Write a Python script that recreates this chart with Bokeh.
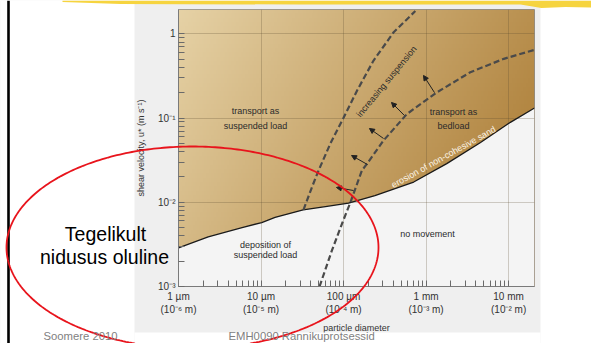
import numpy as np
from math import pi
from bokeh.plotting import figure
from bokeh.models import (FixedTicker, Label, Arrow, NormalHead, ColumnDataSource,
                          GridBox, Range1d)
from bokeh.core.properties import value
from bokeh.embed import file_html
from bokeh.resources import INLINE

# ---------------- data ----------------
# threshold of motion: erosion of non-cohesive sediment (solid curve)
thr_d = [1.0e-6, 2.29e-6, 5.89e-6, 1.02e-5, 1.48e-5, 3.24e-5, 6.03e-5,
         1.15e-4, 2.40e-4, 7.08e-4, 1.78e-3, 4.57e-3, 1.05e-2, 2.06e-2]
thr_u = [2.88e-3, 3.89e-3, 5.01e-3, 5.75e-3, 6.61e-3, 8.13e-3, 8.91e-3,
         9.77e-3, 1.20e-2, 1.74e-2, 2.88e-2, 5.13e-2, 8.91e-2, 0.132]
# onset of suspension (left dashed curve)
susp_d = [3.27e-5, 4.14e-5, 4.98e-5, 6.90e-5, 1.0e-4, 1.46e-4, 2.31e-4, 4.05e-4, 7.41e-4]
susp_u = [8.15e-3, 1.51e-2, 2.39e-2, 4.95e-2, 0.101, 0.213, 0.483, 1.047, 1.87]
# bedload / suspension boundary (right dashed curve)
bed_d = [5.12e-5, 7.23e-5, 9.57e-5, 1.205e-4, 1.67e-4, 1.92e-4, 3.05e-4,
         5.87e-4, 1.36e-3, 3.44e-3, 8.75e-3, 2.06e-2]
bed_u = [1.0e-3, 2.68e-3, 5.56e-3, 9.86e-3, 2.39e-2, 2.86e-2, 5.42e-2,
         0.112, 0.203, 0.351, 0.506, 0.647]
# "increasing suspension" arrows (tail -> head)
arrow_d0 = [1.265e-3, 5.47e-4, 3.05e-4, 1.95e-4, 1.32e-4]
arrow_u0 = [0.201, 0.1074, 0.0573, 0.0281, 0.0138]
arrow_d1 = [9.31e-4, 3.81e-4, 2.06e-4, 1.25e-4, 8.2e-5]
arrow_u1 = [0.321, 0.1534, 0.0753, 0.0360, 0.0150]

# region labels: (particle diameter, shear velocity, text)
region_d = [8.57e-6, 8.57e-6, 2.15e-3, 2.15e-3, 1.13e-5, 1.13e-5, 1.04e-3]
region_u = [0.120, 0.0806, 0.118, 0.0806, 3.15e-3, 2.37e-3, 4.15e-3]
region_t = ["transport as", "suspended load", "transport as", "bedload",
            "deposition of", "suspended load", "no movement"]

# axis ticks
x_major = [1e-6, 1e-5, 1e-4, 1e-3, 1e-2]
x_labels = ["1 \u00b5m\n(10\u207b\u2076 m)", "10 \u00b5m\n(10\u207b\u2075 m)",
            "100 \u00b5m\n(10\u207b\u2074 m)", "1 mm\n(10\u207b\u00b3 m)",
            "10 mm\n(10\u207b\u00b2 m)"]
y_major = [1e-3, 1e-2, 1e-1, 1.0]
y_labels = ["10\u207b\u00b3", "10\u207b\u00b2", "10\u207b\u00b9", "1"]
x_minor = [m * 10.0 ** e for e in range(-6, -2) for m in range(2, 10)]
y_minor = [m * 10.0 ** e for e in range(-3, 0) for m in range(2, 10)]

X_RANGE = (1e-6, 2.06e-2)
Y_RANGE = (1e-3, 1.95)

# ---------------- layout ----------------
W, H = 591, 343
FL, FR, FT, FB = 178, 534, 9, 286      # plot frame (px)

SANS = "Liberation Sans"
TXT = "#2b2b2b"

p = figure(width=W, height=H, x_axis_type="log", y_axis_type="log",
           x_range=X_RANGE, y_range=Y_RANGE,
           output_backend="svg", toolbar_location=None,
           min_border_left=FL, min_border_right=W - FR,
           min_border_top=FT, min_border_bottom=H - FB,
           background_fill_color="#f4f4f4", border_fill_color="#efefef",
           outline_line_color="#8c8c8c")
p.frame_align = False

# brown shaded field (gradient image) masked below the threshold curve
ny, nx = 64, 256
fx = np.linspace(0, 1, nx)[None, :]
fy = np.linspace(0, 1, ny)[:, None]
t = 0.7 * fx + 0.3 * (1 - fy)
c0 = np.array([230, 210, 166])
c1 = np.array([166, 116, 42])
rgb = c0[None, None, :] + (c1 - c0)[None, None, :] * t[..., None]
img = np.empty((ny, nx), dtype=np.uint32)
view = img.view(dtype=np.uint8).reshape((ny, nx, 4))
view[..., 0] = rgb[..., 0].astype(np.uint8)
view[..., 1] = rgb[..., 1].astype(np.uint8)
view[..., 2] = rgb[..., 2].astype(np.uint8)
view[..., 3] = 255
p.image_rgba(image=[img], x=X_RANGE[0], y=Y_RANGE[0],
             dw=X_RANGE[1] - X_RANGE[0], dh=Y_RANGE[1] - Y_RANGE[0], level="image")
p.varea(x=thr_d, y1=Y_RANGE[0], y2=thr_u, fill_color="#f4f4f4", level="image")

# ticks and grid
xt = FixedTicker(ticks=x_major, minor_ticks=x_minor)
yt = FixedTicker(ticks=y_major, minor_ticks=y_minor)
p.xaxis.ticker = xt
p.yaxis.ticker = yt
p.xgrid.ticker = xt
p.ygrid.ticker = yt
for g in (p.xgrid, p.ygrid):
    g.grid_line_color = "#5a4a30"
    g.grid_line_alpha = 0.26
    g.grid_line_width = 1

# curves
p.line(thr_d, thr_u, line_color="#1a1a1a", line_width=1.3)
p.line(susp_d, susp_u, line_color="#4a4a4a", line_width=2.2, line_dash="6 3")
p.line(bed_d, bed_u, line_color="#4a4a4a", line_width=2.2, line_dash="6 3")

src = ColumnDataSource(dict(x0=arrow_d0, y0=arrow_u0, x1=arrow_d1, y1=arrow_u1))
p.add_layout(Arrow(source=src, x_start="x0", y_start="y0", x_end="x1", y_end="y1",
                   line_color="#222222", line_width=1,
                   end=NormalHead(size=5, fill_color="#222222", line_color="#222222")))

# region labels
p.text(x=region_d, y=region_u, text=region_t, text_align="center",
       text_baseline="middle", text_font=value(SANS), text_font_size="9px",
       text_color=TXT)
p.add_layout(Label(x=3.40e-4, y=0.280, text="increasing  suspension", angle=50.5 * pi / 180,
                   text_align="center", text_baseline="middle", text_font=SANS,
                   text_font_size="9px", text_color=TXT))
p.add_layout(Label(x=1.63e-3, y=0.0345, text="erosion of non-cohesive sand",
                   angle=29 * pi / 180, text_align="center", text_baseline="middle",
                   text_font=SANS, text_font_size="9px", text_color="#fbf3e4"))

# axes
for ax in (p.xaxis, p.yaxis):
    ax.major_tick_in = 6
    ax.major_tick_out = 0
    ax.minor_tick_in = 6
    ax.minor_tick_out = 0
    ax.axis_line_color = "#7a7a7a"
    ax.major_tick_line_color = "#6a6a6a"
    ax.minor_tick_line_color = "#6a6a6a"
    ax.major_label_text_font = SANS
    ax.major_label_text_font_size = "10px"
    ax.major_label_text_color = "#333333"
    ax.axis_label_text_font = SANS
    ax.axis_label_text_font_size = "9px"
    ax.axis_label_text_font_style = "normal"
    ax.axis_label_text_color = "#333333"
p.xaxis.major_label_overrides = dict(zip(x_major, x_labels))
p.yaxis.major_label_overrides = dict(zip(y_major, y_labels))
p.xaxis.major_label_standoff = 4
p.yaxis.major_label_standoff = 3
p.xaxis.axis_label = "particle diameter"
p.xaxis.axis_label_standoff = 5
p.yaxis.axis_label = "shear velocity, u* (m s\u207b\u00b9)"
p.yaxis.axis_label_standoff = 9

# ---------------- slide overlay (transparent, page pixels) ----------------
ov = figure(width=W, height=H, x_range=Range1d(0, W), y_range=Range1d(H, 0),
            x_axis_location=None, y_axis_location=None, min_border=0,
            toolbar_location=None, output_backend="svg",
            background_fill_alpha=0, border_fill_alpha=0, outline_line_color=None)
ov.frame_align = False
ov.xgrid.visible = False
ov.ygrid.visible = False

# white slide outside the scanned figure
ov.quad(left=[0, 540, 134, 134], right=[134, W, 540, 540],
        top=[0, 0, 332, 0], bottom=[H, H, H, 3],
        fill_color="white", line_color=None)
# yellow brush stroke on top
ov.patch(x=[62, 120, 300, 520, 541, 565, W, W, 62],
         y=[1.5, 3.5, 4, 4, 7.5, 6.5, 7, 0, 0],
         fill_color="#f5cf2a", fill_alpha=0.9, line_color=None)
# black margin line
ov.quad(left=[6.7], right=[9.3], top=[0], bottom=[H], fill_color="black", line_color=None)

# red ellipse
tt = np.linspace(0, 2 * pi, 361)
ov.line(x=192 + 186 * np.cos(tt), y=247 + 101 * np.sin(tt),
        line_color="#e8141c", line_width=1.8)

ov.text(x=[105, 104], y=[233, 256], text=["Tegelikult", "nidusus oluline"],
        text_align="center", text_baseline="middle",
        text_font=value(SANS), text_font_size="19.5px", text_color="black")

# footer
ov.text(x=[43, 228], y=[335.5, 335.5], text=["Soomere 2010", "EMH0090 Rannikuprotsessid"],
        text_align="left", text_baseline="middle",
        text_font=value(SANS), text_font_size="11.3px", text_color="#7f7f7f")

layout = GridBox(children=[(p, 0, 0), (ov, 0, 0)])
open("out.html", "w").write(file_html(layout, INLINE))
